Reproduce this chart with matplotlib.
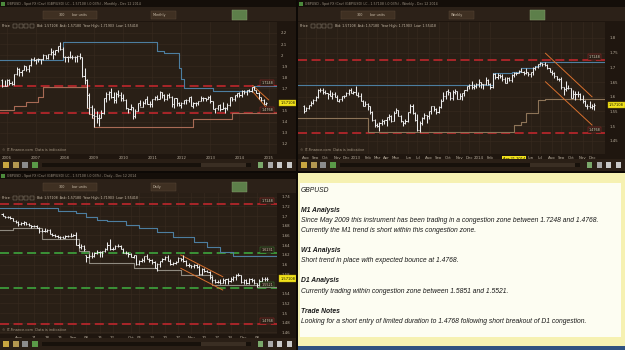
import numpy as np
import matplotlib
matplotlib.use("Agg")
import matplotlib.pyplot as plt
from matplotlib.patches import Rectangle
import matplotlib.transforms as mtrans

# ---------------- data: GBPUSD monthly (Nov 2005 - Dec 2014) ----------------
m_open = [1.7800, 1.7260,
          1.7200, 1.7790, 1.7480, 1.7370, 1.8270, 1.8730, 1.8490, 1.8690, 1.9040, 1.8720, 1.9080, 1.9690,
          1.9580, 1.9640, 1.9630, 1.9690, 1.9990, 1.9790, 2.0070, 2.0320, 2.0140, 2.0440, 2.0800, 2.0570,
          1.9840, 1.9870, 1.9860, 1.9850, 1.9880, 1.9800, 1.9930, 1.9800, 1.8170, 1.7800, 1.6400, 1.5350,
          1.4620, 1.4480, 1.4300, 1.4330, 1.4780, 1.6160, 1.6460, 1.6700, 1.6270, 1.6000, 1.6480, 1.6440,
          1.6150, 1.6000, 1.5240, 1.5170, 1.5300, 1.4510, 1.4950, 1.5700, 1.5330, 1.5700, 1.6030, 1.5580,
          1.5600, 1.6030, 1.6250, 1.6040, 1.6690, 1.6450, 1.6050, 1.6430, 1.6250, 1.5590, 1.6100, 1.5680,
          1.5540, 1.5700, 1.5920, 1.6000, 1.6240, 1.5420, 1.5700, 1.5680, 1.5880, 1.6150, 1.6130, 1.6030,
          1.6260, 1.5860, 1.5160, 1.5200, 1.5530, 1.5190, 1.5210, 1.5210, 1.5500, 1.6190, 1.6040, 1.6370,
          1.6560, 1.6440, 1.6750, 1.6670, 1.6880, 1.6760, 1.7100, 1.6880, 1.6600, 1.6210, 1.5990, 1.5640]
m_high = [1.7860, 1.7810,
          1.7880, 1.7830, 1.7710, 1.8280, 1.8980, 1.8850, 1.8700, 1.9135, 1.9060, 1.9120, 1.9790, 1.9850,
          1.9700, 1.9760, 1.9690, 2.0130, 2.0000, 2.0080, 2.0660, 2.0440, 2.0480, 2.0840, 2.1160, 2.0700,
          1.9920, 1.9920, 2.0400, 2.0000, 1.9890, 2.0020, 2.0180, 1.9860, 1.8870, 1.7900, 1.6620, 1.5500,
          1.5250, 1.4990, 1.4720, 1.5080, 1.6180, 1.6660, 1.6740, 1.7040, 1.6660, 1.6700, 1.6880, 1.6700,
          1.6460, 1.6080, 1.5280, 1.5560, 1.5300, 1.5140, 1.5720, 1.6000, 1.5880, 1.6020, 1.6300, 1.5880,
          1.6060, 1.6280, 1.6400, 1.6740, 1.6700, 1.6530, 1.6470, 1.6620, 1.6290, 1.6140, 1.6160, 1.5770,
          1.5780, 1.5990, 1.6070, 1.6260, 1.6300, 1.5780, 1.5760, 1.5890, 1.6310, 1.6220, 1.6170, 1.6300,
          1.6380, 1.5890, 1.5230, 1.5540, 1.5600, 1.5750, 1.5320, 1.5720, 1.6260, 1.6260, 1.6380, 1.6600,
          1.6670, 1.6820, 1.6820, 1.6880, 1.6990, 1.7100, 1.7190, 1.6890, 1.6640, 1.6230, 1.6030, 1.5790]
m_low = [1.7115, 1.7185,
         1.7200, 1.7280, 1.7270, 1.7340, 1.8250, 1.8135, 1.8100, 1.8660, 1.8610, 1.8520, 1.9000, 1.9470,
         1.9200, 1.9370, 1.9180, 1.9560, 1.9660, 1.9680, 2.0050, 1.9640, 2.0030, 2.0320, 2.0430, 1.9800,
         1.9360, 1.9360, 1.9760, 1.9660, 1.9360, 1.9350, 1.9680, 1.8000, 1.7440, 1.5250, 1.4720, 1.4350,
         1.3500, 1.3900, 1.3660, 1.4320, 1.4710, 1.5800, 1.5990, 1.6180, 1.5700, 1.5700, 1.6250, 1.5900,
         1.5830, 1.5110, 1.4780, 1.5030, 1.4250, 1.4330, 1.4930, 1.5420, 1.5300, 1.5640, 1.5590, 1.5350,
         1.5360, 1.5960, 1.5970, 1.6020, 1.6100, 1.5900, 1.5940, 1.6100, 1.5330, 1.5280, 1.5420, 1.5420,
         1.5230, 1.5590, 1.5600, 1.5800, 1.5380, 1.5270, 1.5400, 1.5480, 1.5870, 1.5910, 1.5830, 1.6010,
         1.5720, 1.5120, 1.4830, 1.5030, 1.5010, 1.5170, 1.4810, 1.5100, 1.5410, 1.5890, 1.5850, 1.6260,
         1.6250, 1.6250, 1.6460, 1.6410, 1.6680, 1.6690, 1.6870, 1.6590, 1.6050, 1.5870, 1.5590, 1.5530]
m_close = [1.7260, 1.7200,
           1.7790, 1.7480, 1.7370, 1.8270, 1.8730, 1.8490, 1.8690, 1.9040, 1.8720, 1.9080, 1.9690, 1.9580,
           1.9640, 1.9630, 1.9690, 1.9990, 1.9790, 2.0070, 2.0320, 2.0140, 2.0440, 2.0800, 2.0570, 1.9840,
           1.9870, 1.9860, 1.9850, 1.9880, 1.9800, 1.9930, 1.9800, 1.8170, 1.7800, 1.6400, 1.5350, 1.4620,
           1.4480, 1.4300, 1.4330, 1.4780, 1.6160, 1.6460, 1.6700, 1.6270, 1.6000, 1.6480, 1.6440, 1.6150,
           1.6000, 1.5240, 1.5170, 1.5300, 1.4510, 1.4950, 1.5700, 1.5330, 1.5700, 1.6030, 1.5580, 1.5600,
           1.6030, 1.6250, 1.6040, 1.6690, 1.6450, 1.6050, 1.6430, 1.6250, 1.5590, 1.6100, 1.5680, 1.5540,
           1.5700, 1.5920, 1.6000, 1.6240, 1.5420, 1.5700, 1.5680, 1.5880, 1.6150, 1.6130, 1.6030, 1.6260,
           1.5860, 1.5160, 1.5200, 1.5530, 1.5190, 1.5210, 1.5210, 1.5500, 1.6190, 1.6040, 1.6370, 1.6560,
           1.6440, 1.6750, 1.6670, 1.6880, 1.6760, 1.7100, 1.6880, 1.6600, 1.6210, 1.5990, 1.5640, 1.5710]
m_tick_idx = [2, 14, 26, 38, 50, 62, 74, 86, 98, 110]
m_tick_lab = ['2006', '2007', '2008', '2009', '2010', '2011', '2012', '2013', '2014', '2015']
m_upper_x = [-1, 25, 64, 67, 73, 74, 75, 87, 103, 104, 114]
m_upper_y = [1.955, 2.116, 2.040, 2.018, 1.887, 1.790, 1.704, 1.674, 1.710, 1.719, 1.719]
m_lower_x = [-1, 5, 10, 15, 17, 35, 36, 37, 38, 79, 95, 114]
m_lower_y = [1.506, 1.540, 1.575, 1.620, 1.710, 1.525, 1.472, 1.435, 1.350, 1.425, 1.481, 1.481]
m_chan_x = [103.5, 110.0]
m_chan_hi = [1.727, 1.598]
m_chan_lo = [1.672, 1.506]

# ---------------- data: GBPUSD weekly (Jul 30 2012 - Dec 8 2014) ----------------
w_open = [1.568, 1.552, 1.562, 1.571, 1.579, 1.589, 1.598, 1.623, 1.622, 1.615, 1.613, 1.610, 1.604, 1.611, 1.598,
          1.587, 1.591, 1.602, 1.603, 1.612, 1.623, 1.614, 1.616,
          1.606, 1.603, 1.586, 1.569, 1.577, 1.567, 1.549, 1.520, 1.504, 1.500, 1.511, 1.519, 1.520, 1.531, 1.533,
          1.519, 1.545, 1.555, 1.536, 1.516, 1.512, 1.519, 1.547, 1.567, 1.544, 1.521, 1.488, 1.511, 1.527, 1.537,
          1.533, 1.552, 1.567, 1.557, 1.549, 1.565, 1.587, 1.601, 1.619, 1.616, 1.596, 1.617, 1.618, 1.593, 1.601,
          1.612, 1.623, 1.637, 1.641, 1.633, 1.636, 1.643,
          1.651, 1.645, 1.643, 1.657, 1.644, 1.632, 1.676, 1.667, 1.675, 1.672, 1.662, 1.647, 1.664, 1.658, 1.675,
          1.681, 1.682, 1.688, 1.686, 1.682, 1.684, 1.676, 1.684, 1.697, 1.702, 1.710, 1.715, 1.711, 1.709, 1.697,
          1.683, 1.680, 1.670, 1.660, 1.659, 1.632, 1.627, 1.629, 1.630, 1.597, 1.609, 1.610, 1.609, 1.591, 1.586,
          1.567, 1.570, 1.564, 1.568]
w_high = [1.571, 1.566, 1.573, 1.587, 1.592, 1.603, 1.626, 1.631, 1.631, 1.623, 1.613, 1.622, 1.617, 1.617, 1.605,
          1.592, 1.604, 1.607, 1.615, 1.625, 1.631, 1.620, 1.638,
          1.616, 1.614, 1.590, 1.587, 1.580, 1.570, 1.553, 1.525, 1.511, 1.515, 1.525, 1.521, 1.531, 1.543, 1.538,
          1.550, 1.561, 1.555, 1.538, 1.519, 1.523, 1.548, 1.575, 1.575, 1.547, 1.541, 1.517, 1.531, 1.544, 1.539,
          1.553, 1.567, 1.570, 1.562, 1.569, 1.591, 1.616, 1.619, 1.626, 1.616, 1.622, 1.626, 1.620, 1.613, 1.614,
          1.624, 1.638, 1.645, 1.653, 1.643, 1.646, 1.660,
          1.651, 1.645, 1.667, 1.659, 1.648, 1.682, 1.680, 1.682, 1.677, 1.676, 1.668, 1.667, 1.669, 1.678, 1.684,
          1.686, 1.692, 1.699, 1.687, 1.697, 1.685, 1.685, 1.700, 1.706, 1.711, 1.718, 1.716, 1.719, 1.710, 1.698,
          1.690, 1.683, 1.671, 1.664, 1.667, 1.633, 1.653, 1.641, 1.631, 1.622, 1.619, 1.619, 1.614, 1.605, 1.590,
          1.574, 1.584, 1.574, 1.578]
w_low = [1.545, 1.550, 1.560, 1.570, 1.575, 1.585, 1.597, 1.615, 1.610, 1.608, 1.593, 1.601, 1.593, 1.598, 1.586,
         1.583, 1.585, 1.597, 1.601, 1.607, 1.613, 1.609, 1.605,
         1.599, 1.584, 1.568, 1.568, 1.556, 1.542, 1.517, 1.498, 1.496, 1.483, 1.505, 1.506, 1.500, 1.520, 1.514,
         1.518, 1.544, 1.533, 1.515, 1.501, 1.506, 1.515, 1.545, 1.542, 1.518, 1.484, 1.481, 1.505, 1.523, 1.510,
         1.523, 1.542, 1.552, 1.541, 1.545, 1.562, 1.584, 1.593, 1.606, 1.589, 1.590, 1.611, 1.592, 1.592, 1.589,
         1.604, 1.620, 1.628, 1.628, 1.626, 1.631, 1.634,
         1.630, 1.627, 1.640, 1.641, 1.625, 1.630, 1.661, 1.660, 1.664, 1.653, 1.646, 1.646, 1.654, 1.652, 1.669,
         1.675, 1.680, 1.683, 1.674, 1.679, 1.670, 1.666, 1.674, 1.691, 1.697, 1.708, 1.704, 1.706, 1.694, 1.683,
         1.673, 1.663, 1.657, 1.655, 1.628, 1.605, 1.618, 1.626, 1.596, 1.596, 1.588, 1.599, 1.589, 1.578, 1.567,
         1.559, 1.562, 1.559, 1.554]
w_close = [1.552, 1.562, 1.571, 1.579, 1.589, 1.598, 1.623, 1.622, 1.615, 1.613, 1.610, 1.604, 1.611, 1.598, 1.587,
           1.591, 1.602, 1.603, 1.612, 1.623, 1.614, 1.616, 1.606,
           1.603, 1.586, 1.569, 1.577, 1.567, 1.549, 1.520, 1.504, 1.500, 1.511, 1.519, 1.520, 1.531, 1.533, 1.519,
           1.545, 1.555, 1.536, 1.516, 1.512, 1.519, 1.547, 1.567, 1.544, 1.521, 1.488, 1.511, 1.527, 1.537, 1.533,
           1.552, 1.567, 1.557, 1.549, 1.565, 1.587, 1.601, 1.619, 1.616, 1.596, 1.617, 1.618, 1.593, 1.601, 1.612,
           1.623, 1.637, 1.641, 1.633, 1.636, 1.643, 1.651,
           1.645, 1.643, 1.657, 1.644, 1.632, 1.676, 1.667, 1.675, 1.672, 1.662, 1.647, 1.664, 1.658, 1.675, 1.681,
           1.682, 1.688, 1.686, 1.682, 1.684, 1.676, 1.684, 1.697, 1.702, 1.710, 1.715, 1.711, 1.709, 1.697, 1.683,
           1.680, 1.670, 1.660, 1.659, 1.632, 1.627, 1.629, 1.630, 1.597, 1.609, 1.610, 1.609, 1.591, 1.586, 1.567,
           1.570, 1.564, 1.568, 1.571]
w_tick_idx = [1, 5, 9, 14, 18, 22, 27, 31, 35, 39, 44, 48, 53, 57, 61, 66, 70, 74, 79, 96, 100, 105, 109, 113, 118, 122]
w_tick_lab = ['Aug', 'Sep', 'Oct', 'Nov', 'Dec', '2013', 'Feb', 'Mar', 'Apr', 'May', 'Jun', 'Jul', 'Aug', 'Sep',
              'Oct', 'Nov', 'Dec', '2014', 'Feb', 'Jun', 'Jul', 'Aug', 'Sep', 'Oct', 'Nov', 'Dec']
w_cursor_idx = 89
w_cursor_lab = 'Apr 21 2014'
w_upper_x = [-3, 80, 88, 92, 98, 100, 102, 128]
w_upper_y = [1.640, 1.682, 1.686, 1.699, 1.706, 1.718, 1.719, 1.719]
w_lower_x = [-3, 27, 89, 92, 94, 99, 102, 128]
w_lower_y = [1.527, 1.4816, 1.504, 1.515, 1.544, 1.589, 1.5925, 1.5925]
w_chan_x = [102.3, 122.0]
w_chan_hi = [1.748, 1.600]
w_chan_lo = [1.651, 1.504]

# ---------------- data: GBPUSD daily (Jul 24 - Dec 12 2014) ----------------
d_open = [1.7050, 1.6995, 1.6985, 1.6985, 1.6960, 1.6895, 1.6880, 1.6830, 1.6865, 1.6880,
          1.6835, 1.6825, 1.6785, 1.6795, 1.6760, 1.6690, 1.6700, 1.6695, 1.6720, 1.6630,
          1.6605, 1.6595, 1.6565, 1.6575, 1.6555, 1.6585, 1.6595, 1.6595, 1.6610, 1.6410,
          1.6370, 1.6390, 1.6190, 1.6155, 1.6180, 1.6170, 1.6245, 1.6260, 1.6260, 1.6275,
          1.6310, 1.6400, 1.6310, 1.6330, 1.6375, 1.6390, 1.6330, 1.6245, 1.6230, 1.6210,
          1.6160, 1.6190, 1.6010, 1.6075, 1.6100, 1.6170, 1.6115, 1.6085, 1.6050, 1.5930,
          1.6010, 1.6070, 1.6110, 1.6160, 1.6075, 1.6020, 1.6035, 1.6060, 1.6125, 1.6120,
          1.6080, 1.6000, 1.5995, 1.5960, 1.5995, 1.5955, 1.5800, 1.5905, 1.5860, 1.5855,
          1.5745, 1.5690, 1.5645, 1.5650, 1.5615, 1.5675, 1.5695, 1.5660, 1.5705, 1.5750,
          1.5790, 1.5775, 1.5640, 1.5690, 1.5610, 1.5700, 1.5675, 1.5615, 1.5580, 1.5670,
          1.5710, 1.5705]
d_high = [1.7070, 1.7000, 1.7000, 1.6995, 1.6960, 1.6915, 1.6890, 1.6875, 1.6900, 1.6880,
          1.6865, 1.6825, 1.6810, 1.6815, 1.6765, 1.6725, 1.6745, 1.6740, 1.6725, 1.6645,
          1.6635, 1.6605, 1.6590, 1.6590, 1.6600, 1.6615, 1.6640, 1.6625, 1.6665, 1.6440,
          1.6420, 1.6395, 1.6200, 1.6225, 1.6260, 1.6260, 1.6290, 1.6285, 1.6280, 1.6340,
          1.6455, 1.6525, 1.6360, 1.6395, 1.6415, 1.6410, 1.6340, 1.6280, 1.6250, 1.6235,
          1.6205, 1.6190, 1.6085, 1.6135, 1.6185, 1.6225, 1.6125, 1.6110, 1.6065, 1.6040,
          1.6075, 1.6135, 1.6175, 1.6190, 1.6110, 1.6060, 1.6080, 1.6150, 1.6140, 1.6190,
          1.6100, 1.6040, 1.6000, 1.6015, 1.6010, 1.6000, 1.5920, 1.5920, 1.5880, 1.5860,
          1.5770, 1.5705, 1.5690, 1.5700, 1.5730, 1.5710, 1.5730, 1.5750, 1.5765, 1.5805,
          1.5825, 1.5780, 1.5710, 1.5700, 1.5720, 1.5730, 1.5705, 1.5625, 1.5700, 1.5740,
          1.5745, 1.5740]
d_low = [1.6990, 1.6960, 1.6965, 1.6945, 1.6890, 1.6865, 1.6800, 1.6815, 1.6815, 1.6825,
         1.6800, 1.6760, 1.6765, 1.6750, 1.6660, 1.6675, 1.6675, 1.6680, 1.6620, 1.6590,
         1.6570, 1.6555, 1.6535, 1.6545, 1.6540, 1.6570, 1.6575, 1.6580, 1.6395, 1.6350,
         1.6330, 1.6275, 1.6050, 1.6140, 1.6130, 1.6165, 1.6215, 1.6150, 1.6160, 1.6250,
         1.6300, 1.6290, 1.6300, 1.6320, 1.6360, 1.6310, 1.6240, 1.6215, 1.6160, 1.6150,
         1.6140, 1.6000, 1.5995, 1.6050, 1.6050, 1.6110, 1.6060, 1.6020, 1.5920, 1.5875,
         1.5950, 1.6050, 1.6090, 1.6065, 1.6000, 1.5990, 1.6010, 1.6050, 1.6080, 1.6050,
         1.5965, 1.5940, 1.5925, 1.5930, 1.5935, 1.5790, 1.5785, 1.5840, 1.5845, 1.5710,
         1.5650, 1.5610, 1.5620, 1.5590, 1.5610, 1.5600, 1.5590, 1.5640, 1.5660, 1.5690,
         1.5755, 1.5620, 1.5595, 1.5590, 1.5600, 1.5650, 1.5590, 1.5540, 1.5565, 1.5640,
         1.5670, 1.5665]
d_close = [1.6995, 1.6985, 1.6985, 1.6960, 1.6895, 1.6880, 1.6830, 1.6865, 1.6880, 1.6835,
           1.6825, 1.6785, 1.6795, 1.6760, 1.6690, 1.6700, 1.6695, 1.6720, 1.6630, 1.6605,
           1.6595, 1.6565, 1.6575, 1.6555, 1.6585, 1.6595, 1.6595, 1.6610, 1.6410, 1.6370,
           1.6390, 1.6325, 1.6155, 1.6180, 1.6170, 1.6245, 1.6260, 1.6260, 1.6275, 1.6310,
           1.6400, 1.6310, 1.6330, 1.6375, 1.6390, 1.6330, 1.6245, 1.6230, 1.6210, 1.6160,
           1.6190, 1.6010, 1.6075, 1.6100, 1.6170, 1.6115, 1.6085, 1.6050, 1.5930, 1.6010,
           1.6070, 1.6110, 1.6160, 1.6075, 1.6020, 1.6035, 1.6060, 1.6125, 1.6120, 1.6080,
           1.6000, 1.5995, 1.5960, 1.5995, 1.5955, 1.5800, 1.5905, 1.5860, 1.5855, 1.5745,
           1.5690, 1.5645, 1.5650, 1.5615, 1.5675, 1.5695, 1.5660, 1.5705, 1.5750, 1.5790,
           1.5775, 1.5640, 1.5690, 1.5610, 1.5700, 1.5675, 1.5615, 1.5580, 1.5670, 1.5710,
           1.5705, 1.5710]
d_tick_idx = [6, 12, 17, 22, 27, 32, 37, 42, 49, 52, 57, 62, 67, 72, 77, 82, 87, 92, 97]
d_tick_lab = ['Aug', '11', '18', '25', 'Sep', '08', '15', '22', 'Oct', '06', '13', '20', '27',
              'Nov', '10', '17', '24', 'Dec', '08']
d_upper_x = [-1, 21, 28, 32, 36, 40, 47, 52, 59, 65, 73, 78, 83, 88, 105]
d_upper_y = [1.716, 1.7104, 1.7056, 1.6987, 1.6918, 1.6897, 1.6815, 1.6747, 1.6677, 1.6574, 1.6471,
             1.6368, 1.6264, 1.6176, 1.6176]
d_lower_x = [-1, 4, 15, 29, 33, 50, 59, 68, 80, 97, 105]
d_lower_y = [1.671, 1.676, 1.652, 1.627, 1.6025, 1.5922, 1.589, 1.578, 1.558, 1.554, 1.554]
d_chan_x = [68.0, 84.0]
d_chan_hi = [1.6196, 1.5749]
d_chan_lo = [1.5922, 1.5475]

last_price = 1.57108
red_levels = [1.7248, 1.4768]
green_levels = [1.6231, 1.5521]

notes = [
    ("GBPUSD", False),
    ("", False),
    ("M1 Analysis", True),
    ("Since May 2009 this instrument has been trading in a congestion zone between 1.7248 and 1.4768.", False),
    ("Currently the M1 trend is short within this congestion zone.", False),
    ("", False),
    ("W1 Analysis", True),
    ("Short trend in place with expected bounce at 1.4768.", False),
    ("", False),
    ("D1 Analysis", True),
    ("Currently trading within congestion zone between 1.5851 and 1.5521.", False),
    ("", False),
    ("Trade Notes", True),
    ("Looking for a short entry of limited duration to 1.4768 following short breakout of D1 congestion.", False),
]

# ---------------- drawing ----------------
W, H = 625, 350
WIN = '#1f160f'
CHART = '#291f16'
TXT = '#b8ad9c'
BAR = '#ebebeb'
RED = '#b3262b'
GREEN = '#3c9b3a'
BLUE = '#4d7ea0'
ORANGE = '#d8702e'


def px(x0, y0, x1, y1):
    return [x0 / W, 1 - y1 / H, (x1 - x0) / W, (y1 - y0) / H]


fig = plt.figure(figsize=(6.25, 3.5), dpi=100, facecolor=WIN)


def chart(rect, o, h, l, c, ylim, yt, xt, xl, upper, lower, lower_col, chan, levels):
    ax = fig.add_axes(rect)
    ax.set_facecolor(CHART)
    for s in ax.spines.values():
        s.set_visible(False)
    n = len(o)
    ax.set_xlim(ylim[0])
    ax.set_ylim(ylim[1])
    ax.yaxis.tick_right()
    ax.set_yticks(yt)
    ax.set_yticklabels(['%g' % v for v in yt])
    ax.set_xticks(xt)
    ax.set_xticklabels(xl)
    ax.tick_params(axis='y', length=0, labelsize=2.8, labelcolor=TXT, pad=3)
    ax.tick_params(axis='x', length=0, labelsize=2.8, labelcolor=TXT, pad=1.5)
    ax.grid(True, color='#382b20', lw=0.4)
    ax.set_axisbelow(True)
    tr = mtrans.blended_transform_factory(ax.transAxes, ax.transData)
    for lv, col in levels:
        ax.axhline(lv, color=col, lw=1.3, ls=(0, (5, 2.5)), zorder=2)
        ax.text(0.985, lv + (ylim[1][1] - ylim[1][0]) * 0.008, '%.4f' % lv, transform=tr,
                ha='right', va='bottom', fontsize=2.4, color='#d8cbb5', zorder=6,
                bbox=dict(boxstyle='square,pad=0.25', fc=CHART, ec=col, lw=0.3))
    ax.step(upper[0], upper[1], where='post', color=BLUE, lw=0.8, zorder=3)
    ax.step(lower[0], lower[1], where='post', color=lower_col, lw=0.8, zorder=3)
    ax.plot(chan[0], chan[1], color=ORANGE, lw=0.7, zorder=4)
    ax.plot(chan[0], chan[2], color=ORANGE, lw=0.7, zorder=4)
    x = np.arange(n)
    ax.vlines(x, l, h, color=BAR, lw=0.75, zorder=5)
    ax.hlines(o, x - 0.45, x, color=BAR, lw=0.75, zorder=5)
    ax.hlines(c, x, x + 0.45, color=BAR, lw=0.75, zorder=5)
    ax.text(1.012, last_price, '%.5f' % last_price, transform=tr, ha='left', va='center',
            fontsize=2.6, color='#1a1a00', zorder=7,
            bbox=dict(boxstyle='square,pad=0.3', fc='#f2e21c', ec='#b0a000', lw=0.3))
    ax.text(0.006, 0.012, '\u00a9 IT-Finance.com  Data is indicative', transform=ax.transAxes,
            fontsize=2.5, color='#a89a86', ha='left', va='bottom')
    return ax


axm = chart(px(0, 22, 277, 154), m_open, m_high, m_low, m_close,
            ((-0.9, 113.5), (1.1099, 2.299)),
            [1.2, 1.3, 1.4, 1.5, 1.7, 1.8, 1.9, 2.0, 2.1, 2.2],
            m_tick_idx, m_tick_lab,
            (m_upper_x, m_upper_y), (m_lower_x, m_lower_y), '#a86a55',
            (m_chan_x, m_chan_hi, m_chan_lo),
            [(red_levels[0], RED), (red_levels[1], RED)])

axw = chart(px(298, 22, 605, 154), w_open, w_high, w_low, w_close,
            ((-2.5, 127.5), (1.4054, 1.8544)),
            [1.45, 1.5, 1.55, 1.6, 1.65, 1.7, 1.75, 1.8],
            w_tick_idx, w_tick_lab,
            (w_upper_x, w_upper_y), (w_lower_x, w_lower_y), '#8d7458',
            (w_chan_x, w_chan_hi, w_chan_lo),
            [(red_levels[0], RED), (red_levels[1], RED)])
trw = mtrans.blended_transform_factory(axw.transData, axw.transAxes)
axw.text(w_cursor_idx, -0.025, w_cursor_lab, transform=trw, ha='center', va='top', fontsize=2.6,
         color='#1a1a00', bbox=dict(boxstyle='square,pad=0.3', fc='#f2e21c', ec='none'))

axd = chart(px(0, 192, 277, 334), d_open, d_high, d_low, d_close,
            ((-0.99, 104.7), (1.4568, 1.7495)),
            [1.46, 1.48, 1.5, 1.52, 1.54, 1.58, 1.6, 1.62, 1.64, 1.66, 1.68, 1.7, 1.72, 1.74],
            d_tick_idx, d_tick_lab,
            (d_upper_x, d_upper_y), (d_lower_x, d_lower_y), '#8f8a80',
            (d_chan_x, d_chan_hi, d_chan_lo),
            [(red_levels[0], RED), (green_levels[0], GREEN), (green_levels[1], GREEN), (red_levels[1], RED)])

# ---------------- window chrome + notes (overlay) ----------------
ov = fig.add_axes([0, 0, 1, 1], zorder=10)
ov.set_xlim(0, W)
ov.set_ylim(H, 0)
ov.axis('off')


def rect(x0, y0, x1, y1, fc, ec='none', lw=0):
    ov.add_patch(Rectangle((x0, y0), x1 - x0, y1 - y0, fc=fc, ec=ec, lw=lw))


def window(x0, x1, y0, y_bot, tf, title):
    # title bar
    rect(x0, y0, x1, y0 + 7, '#140e09')
    rect(x0 + 1, y0 + 1.5, x0 + 5, y0 + 5.5, '#4c8a3c')
    ov.text(x0 + 7, y0 + 3.6, title, fontsize=2.3, color='#9a8f80', va='center')
    # toolbar
    rect(x0, y0 + 7, x1, y0 + 21, '#2c2118')
    rect(x0 + 43, y0 + 11, x0 + 97, y0 + 18.5, '#3f3022', ec='#5a4838', lw=0.3)
    ov.text(x0 + 62, y0 + 14.8, '300', fontsize=2.4, color='#c8bba8', ha='center', va='center')
    ov.text(x0 + 72, y0 + 14.8, 'bar units', fontsize=2.4, color='#c8bba8', va='center')
    rect(x0 + 151, y0 + 11, x0 + 176, y0 + 18.5, '#3f3022', ec='#5a4838', lw=0.3)
    ov.text(x0 + 153, y0 + 14.8, tf, fontsize=2.4, color='#c8bba8', va='center')
    rect(x0 + 232, y0 + 10, x0 + 247, y0 + 19.5, '#5d7f4a', ec='#8aa070', lw=0.3)
    # price info row
    ov.text(x0 + 2, y0 + 26, 'Price', fontsize=2.5, color='#c8bba8', va='center')
    for k in range(4):
        rect(x0 + 13 + k * 5.5, y0 + 24, x0 + 17 + k * 5.5, y0 + 28, 'none', ec='#9a8f80', lw=0.3)
    ov.text(x0 + 37, y0 + 26, 'Bid: 1.57108  Ask: 1.57180  Year High: 1.71903  Low: 1.55418',
            fontsize=2.3, color='#c8bba8', va='center')
    # bottom toolbar
    rect(x0, y_bot, x1, y_bot + 12, '#2a1f16')
    for k, col in enumerate(['#c9a640', '#b49850', '#8c8c8c', '#5a9a48']):
        rect(x0 + 3 + k * 9.5, y_bot + 3, x0 + 9 + k * 9.5, y_bot + 9, col)
    rect(x0 + 42, y_bot + 4, x1 - 45, y_bot + 8, '#17110b')
    rect(x1 - 95, y_bot + 4, x1 - 50, y_bot + 8, '#3a2e23')
    for k, col in enumerate(['#7aa86a', '#a9a9a9', '#c9c9c9', '#c9c9c9']):
        rect(x1 - 38 + k * 9.5, y_bot + 3, x1 - 33 + k * 9.5, y_bot + 9, col)


window(0, 296, 0, 159, 'Monthly',
       'GBPUSD - Spot FX (Cnv) (GBP/USD) LC - 1.57108 (-0.03%) - Monthly - Dec 12 2014')
window(298, 625, 0, 159, 'Weekly',
       'GBPUSD - Spot FX (Cnv) (GBP/USD) LC - 1.57108 (-0.03%) - Weekly - Dec 12 2014')
window(0, 296, 172, 338, 'Daily',
       'GBPUSD - Spot FX (Cnv) (GBP/USD) LC - 1.57108 (-0.03%) - Daily - Dec 12 2014')

# separators
rect(296, 0, 298, 350, '#0d0906')
rect(0, 171, 625, 172.5, '#0d0906')

# notes panel
rect(298, 172.5, 625, 350, '#f6f1b2')
rect(300, 183, 621, 337, '#fdfdf2')
rect(298, 346, 625, 350, '#30517f')
y = 190
for line, bold in notes:
    if line:
        ov.text(301, y, line, fontsize=4.9, color='#1a1a1a', va='center',
                family='Liberation Sans', style='italic',
                weight='bold' if bold else 'normal')
    y += 10.1

fig.savefig('out.png', dpi=100, facecolor=WIN)
